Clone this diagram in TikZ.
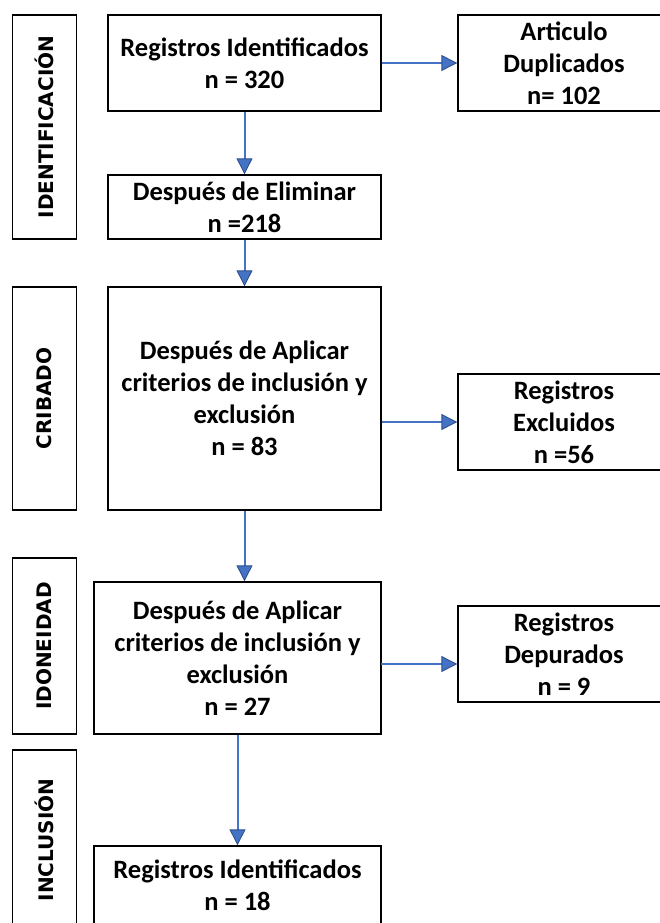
\documentclass[tikz,border=0pt]{standalone}
\usepackage{fontspec}
\setmainfont{Carlito}
\newfontfamily\sidefont{DejaVu Sans}
\usetikzlibrary{arrows.meta}
\definecolor{arrblue}{HTML}{4472C4}
\definecolor{arrdark}{HTML}{2F528F}
\tikzset{
  box/.style={draw=black, line width=1.3pt, rectangle, inner sep=0pt, align=center,
    font=\fontsize{26.5}{32}\selectfont\bfseries},
  sidebox/.style={draw=black, line width=1.3pt, rectangle, inner sep=0pt, rotate=90,
    minimum height=64pt, font=\sidefont\fontsize{20}{24}\selectfont\bfseries},
  flow/.style={draw=arrblue, line width=2pt,
    -{Triangle[length=16pt,width=16pt,fill=arrblue,color=arrdark,line width=0.9pt]}}
}
\begin{document}
\begin{tikzpicture}[x=1pt,y=1pt]
\useasboundingbox (0,0) rectangle (660,-923);
\clip (0,0) rectangle (660,-923);
% side phase labels
\node[sidebox, minimum width=224pt] (s1) at (44.5,-127) {IDENTIFICACIÓN};
\node[sidebox, minimum width=223pt] (s2) at (44.5,-398.5) {CRIBADO};
\node[sidebox, minimum width=176pt] (s3) at (44.5,-646) {IDONEIDAD};
\node[sidebox, minimum width=180pt] (s4) at (44.5,-840) {INCLUSIÓN};
% main column
\node[box, minimum width=273pt, minimum height=96pt] (b1) at (244.5,-63) {Registros Identificados\\n = 320};
\node[box, minimum width=273pt, minimum height=64pt] (b2) at (244.5,-207) {Después de Eliminar\\n =218};
\node[box, minimum width=273pt, minimum height=223pt] (b3) at (244.5,-398.5) {Después de Aplicar\\criterios de inclusión y\\exclusión\\n = 83};
\node[box, minimum width=287pt, minimum height=152pt] (b4) at (237.5,-658) {Después de Aplicar\\criterios de inclusión y\\exclusión\\n = 27};
\node[box, minimum width=287pt, minimum height=78pt] (b5) at (237.5,-885) {Registros Identificados\\n = 18};
% right column
\node[box, minimum width=212pt, minimum height=96pt] (r1) at (564,-63) {Articulo\\Duplicados\\n= 102};
\node[box, minimum width=212pt, minimum height=96pt] (r2) at (564,-422) {Registros\\Excluidos\\n =56};
\node[box, minimum width=212pt, minimum height=96pt] (r3) at (564,-654) {Registros\\Depurados\\n = 9};
% connectors
\coordinate (c3) at (381,-664);
\draw[flow] (b1.east) -- (r1.west);
\draw[flow] (b1.south) -- (b2.north);
\draw[flow] (b2.south) -- (b3.north);
\draw[flow] (b3.east |- r2.west) -- (r2.west);
\draw[flow] (b3.south) -- (b3.south |- b4.north);
\draw[flow] (c3) -- (c3 -| r3.west);
\draw[flow] (b4.south) -- (b5.north);
\end{tikzpicture}
\end{document}
